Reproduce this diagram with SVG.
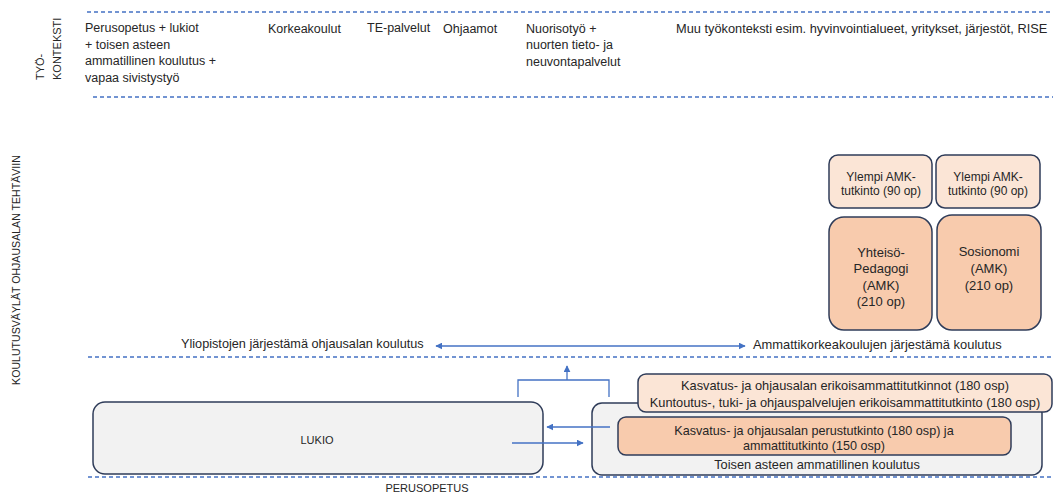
<svg xmlns="http://www.w3.org/2000/svg" width="1053" height="493" viewBox="0 0 1053 493">
<style>
text{font-family:"Liberation Sans",Arial,sans-serif;fill:#262626}
.t{font-size:12.5px}
.c{text-anchor:middle}
.dash{stroke:#4472c4;stroke-width:1.5;stroke-dasharray:4 3;fill:none}
.con{stroke:#4472c4;stroke-width:1.3;fill:none}
.gray{fill:#f2f2f2;stroke:#2f3c59;stroke-width:1.5}
.light{fill:#fbe5d6;stroke:#2f3c59;stroke-width:1.5}
.peach{fill:#f8cbad;stroke:#2f3c59;stroke-width:1.5}
</style>
<defs>
<marker id="ah" viewBox="0 0 10 10" refX="9" refY="5" markerWidth="7" markerHeight="7" orient="auto-start-reverse" markerUnits="userSpaceOnUse"><path d="M0,0 L10,5 L0,10 z" fill="#4472c4"/></marker>
</defs>
<rect width="1053" height="493" fill="#ffffff"/>
<g id="guides">
<line class="dash" x1="87" y1="12" x2="1053" y2="12"/>
<line class="dash" x1="93" y1="97" x2="1053" y2="97"/>
<line class="dash" x1="88" y1="357" x2="1053" y2="357"/>
<line class="dash" x1="88" y1="477" x2="1053" y2="477"/>
</g>
<g id="labels">
<text font-size="11" transform="translate(44,80) rotate(-90)">TYÖ-</text>
<text font-size="11" transform="translate(61,80) rotate(-90)">KONTEKSTI</text>
<text font-size="10.6" class="c" transform="translate(20,270) rotate(-90)">KOULUTUSVÄYLÄT OHJAUSALAN TEHTÄVIIN</text>
<text class="t" x="85" y="32">Perusopetus + lukiot</text>
<text class="t" x="85" y="48.5">+ toisen asteen</text>
<text class="t" x="85" y="65">ammatillinen koulutus +</text>
<text class="t" x="85" y="81.5">vapaa sivistystyö</text>
<text class="t" x="268" y="32.5">Korkeakoulut</text>
<text class="t" x="367" y="32">TE-palvelut</text>
<text class="t" x="443" y="32.5">Ohjaamot</text>
<text class="t" x="526" y="32.5">Nuorisotyö +</text>
<text class="t" x="526" y="49">nuorten tieto- ja</text>
<text class="t" x="526" y="65.5">neuvontapalvelut</text>
<text font-size="12.8" x="676" y="32.5">Muu työkonteksti esim. hyvinvointialueet, yritykset, järjestöt, RISE</text>
<text font-size="12.7" x="181" y="348">Yliopistojen järjestämä ohjausalan koulutus</text>
<text font-size="12.9" x="753" y="349">Ammattikorkeakoulujen järjestämä koulutus</text>
<text font-size="11" class="c" x="427" y="492">PERUSOPETUS</text>
</g>
<g id="ylempi1">
<rect class="light" x="829" y="155" width="103" height="53" rx="9"/>
<text font-size="12" class="c" x="881" y="181">Ylempi AMK-</text>
<text font-size="12" class="c" x="881" y="195">tutkinto (90 op)</text>
</g>
<g id="ylempi2">
<rect class="light" x="936" y="155" width="104" height="53" rx="9"/>
<text font-size="12" class="c" x="988" y="181">Ylempi AMK-</text>
<text font-size="12" class="c" x="988" y="195">tutkinto (90 op)</text>
</g>
<g id="yhteisopedagogi">
<rect class="peach" x="829" y="217" width="103" height="113" rx="15"/>
<text font-size="13" class="c" x="881" y="257">Yhteisö-</text>
<text font-size="13" class="c" x="881" y="273">Pedagogi</text>
<text font-size="13" class="c" x="881" y="290">(AMK)</text>
<text font-size="13" class="c" x="881" y="306">(210 op)</text>
</g>
<g id="sosionomi">
<rect class="peach" x="937" y="215" width="104" height="115" rx="15"/>
<text font-size="13" class="c" x="989" y="256">Sosionomi</text>
<text font-size="13" class="c" x="989" y="273">(AMK)</text>
<text font-size="13" class="c" x="989" y="290">(210 op)</text>
</g>
<g id="lukio">
<rect class="gray" x="93" y="402" width="450" height="72" rx="12"/>
<text font-size="11" class="c" x="317" y="444">LUKIO</text>
</g>
<g id="toinenaste">
<rect class="gray" x="592" y="403" width="450" height="72" rx="10"/>
<text font-size="12.8" class="c" x="817" y="468.5">Toisen asteen ammatillinen koulutus</text>
</g>
<g id="perustutkinto">
<rect class="peach" x="618" y="417" width="393" height="38" rx="8"/>
<text font-size="12.6" class="c" x="814" y="434.5">Kasvatus- ja ohjausalan perustutkinto (180 osp) ja</text>
<text font-size="12.6" class="c" x="814" y="450">ammattitutkinto (150 osp)</text>
</g>
<g id="erikoisammatti">
<rect class="light" x="638" y="374" width="414" height="38" rx="8"/>
<text font-size="12.8" class="c" x="845" y="390">Kasvatus- ja ohjausalan erikoisammattitutkinnot (180 osp)</text>
<text font-size="12.8" class="c" x="845" y="407">Kuntoutus-, tuki- ja ohjauspalvelujen erikoisammattitutkinto (180 osp)</text>
</g>
<g id="connectors">
<line class="con" x1="436" y1="346" x2="745" y2="346" marker-start="url(#ah)" marker-end="url(#ah)"/>
<path class="con" d="M518,397 V380 H609 V397"/>
<line class="con" x1="567" y1="380" x2="567" y2="366" marker-end="url(#ah)"/>
<line class="con" x1="512" y1="443" x2="583" y2="443" marker-end="url(#ah)"/>
<line class="con" x1="610" y1="427" x2="547" y2="427" marker-end="url(#ah)"/>
</g>
</svg>
